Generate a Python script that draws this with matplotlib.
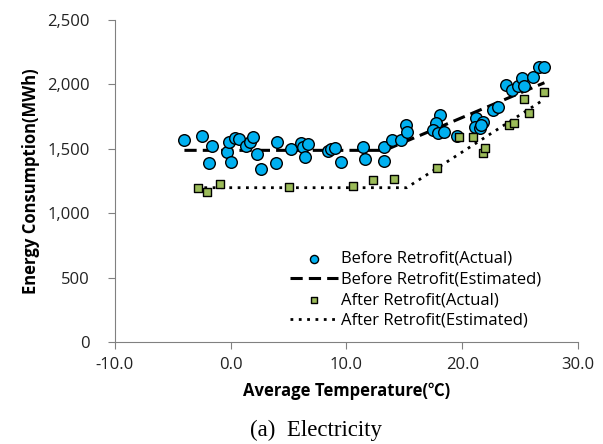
import matplotlib.pyplot as plt
from matplotlib.ticker import FuncFormatter

plt.rcParams['font.family'] = ['Open Sans', 'Noto Sans CJK KR', 'DejaVu Sans']

# before retrofit, actual (temperature, MWh)
before_t = [-4.0, -2.5, -1.6, -1.9, -0.3, -0.15, 0.35, 0.7, 0.05, 1.35, 1.7, 1.9,
            2.3, 2.65, 4.0, 3.95, 5.2, 6.05, 6.25, 6.7, 6.4, 8.4, 8.7, 9.05, 9.5,
            11.4, 11.6, 13.2, 13.2, 13.9, 14.7, 15.1, 15.2, 18.1, 17.7, 17.5, 17.9,
            18.4, 19.55, 21.2, 21.1, 21.5, 21.8, 21.65, 22.65, 23.1, 23.8, 24.3,
            24.8, 25.2, 25.3, 26.1, 26.6, 27.05]
before_e = [1568, 1600, 1522, 1387, 1478, 1555, 1581, 1573, 1395, 1522, 1555, 1594,
            1457, 1341, 1553, 1387, 1496, 1547, 1516, 1537, 1434, 1485, 1496, 1509, 1395,
            1511, 1421, 1511, 1408, 1568, 1568, 1685, 1633, 1762, 1698, 1646, 1625,
            1633, 1599, 1736, 1672, 1658, 1710, 1685, 1801, 1827, 1995, 1957,
            1988, 2047, 1988, 2060, 2138, 2138]

# after retrofit, actual
after_t = [-2.8, -2.05, -0.95, 5.0, 10.6, 12.25, 14.1, 17.85, 19.7, 20.95, 21.8,
           21.95, 24.0, 24.5, 25.8, 25.35, 27.05]
after_e = [1193, 1162, 1229, 1206, 1209, 1255, 1263, 1349, 1589, 1589, 1470,
           1503, 1685, 1698, 1780, 1884, 1944]

# estimated change-point models
before_fit_t = [-4.0, 13.3, 27.1]
before_fit_e = [1488, 1488, 2013]
after_fit_t = [-3.0, 15.2, 27.0]
after_fit_e = [1198, 1198, 1879]

fig = plt.figure(figsize=(6.03, 4.44), dpi=100)
ax = fig.add_axes([0.1907, 0.2297, 0.9585 - 0.1907, 0.955 - 0.2297])

ax.scatter(before_t, before_e, s=70, c='#00B0F0', edgecolors='black', linewidths=1.0,
           zorder=3, label='Before Retrofit(Actual)')
ax.plot(before_fit_t, before_fit_e, color='black', linestyle=(0, (4, 2)), linewidth=2.2,
        zorder=2, label='Before Retrofit(Estimated)')
ax.scatter(after_t, after_e, s=40, marker='s', c='#9BBB59', edgecolors='black', linewidths=1.0,
           zorder=3, label='After Retrofit(Actual)')
ax.plot(after_fit_t, after_fit_e, color='black', linestyle=(0, (1, 2)), linewidth=2.0,
        zorder=2, label='After Retrofit(Estimated)')

ax.set_xlim(-10, 30)
ax.set_ylim(0, 2500)
ax.set_xticks([-10, 0, 10, 20, 30])
ax.set_yticks([0, 500, 1000, 1500, 2000, 2500])
ax.xaxis.set_major_formatter(FuncFormatter(lambda v, p: '%.1f' % v))
ax.yaxis.set_major_formatter(FuncFormatter(lambda v, p: '{:,.0f}'.format(v)))
ax.tick_params(labelsize=12, length=5, colors='#222222')
ax.tick_params(axis='both', color='#808080')
ax.tick_params(axis='y', pad=13)
ax.tick_params(axis='x', pad=6)
for s in ['top', 'right']:
    ax.spines[s].set_visible(False)
for s in ['left', 'bottom']:
    ax.spines[s].set_color('#808080')

ax.set_xlabel('Average Temperature(℃)', fontsize=12, fontweight='bold', labelpad=6)
ax.set_ylabel('Energy Consumption(MWh)', fontsize=12, fontweight='bold', labelpad=5)

leg = ax.legend(loc='lower left', bbox_to_anchor=(0.363, 0.02), frameon=False, fontsize=12,
                handlelength=2.9, handletextpad=0.15, labelspacing=0.28, markerscale=0.7,
                borderaxespad=0)

fig.text(0.524, 0.031, '(a)  Electricity', family='Liberation Serif', fontsize=16.5,
         ha='center', va='center')

fig.savefig('out.png', dpi=100)
